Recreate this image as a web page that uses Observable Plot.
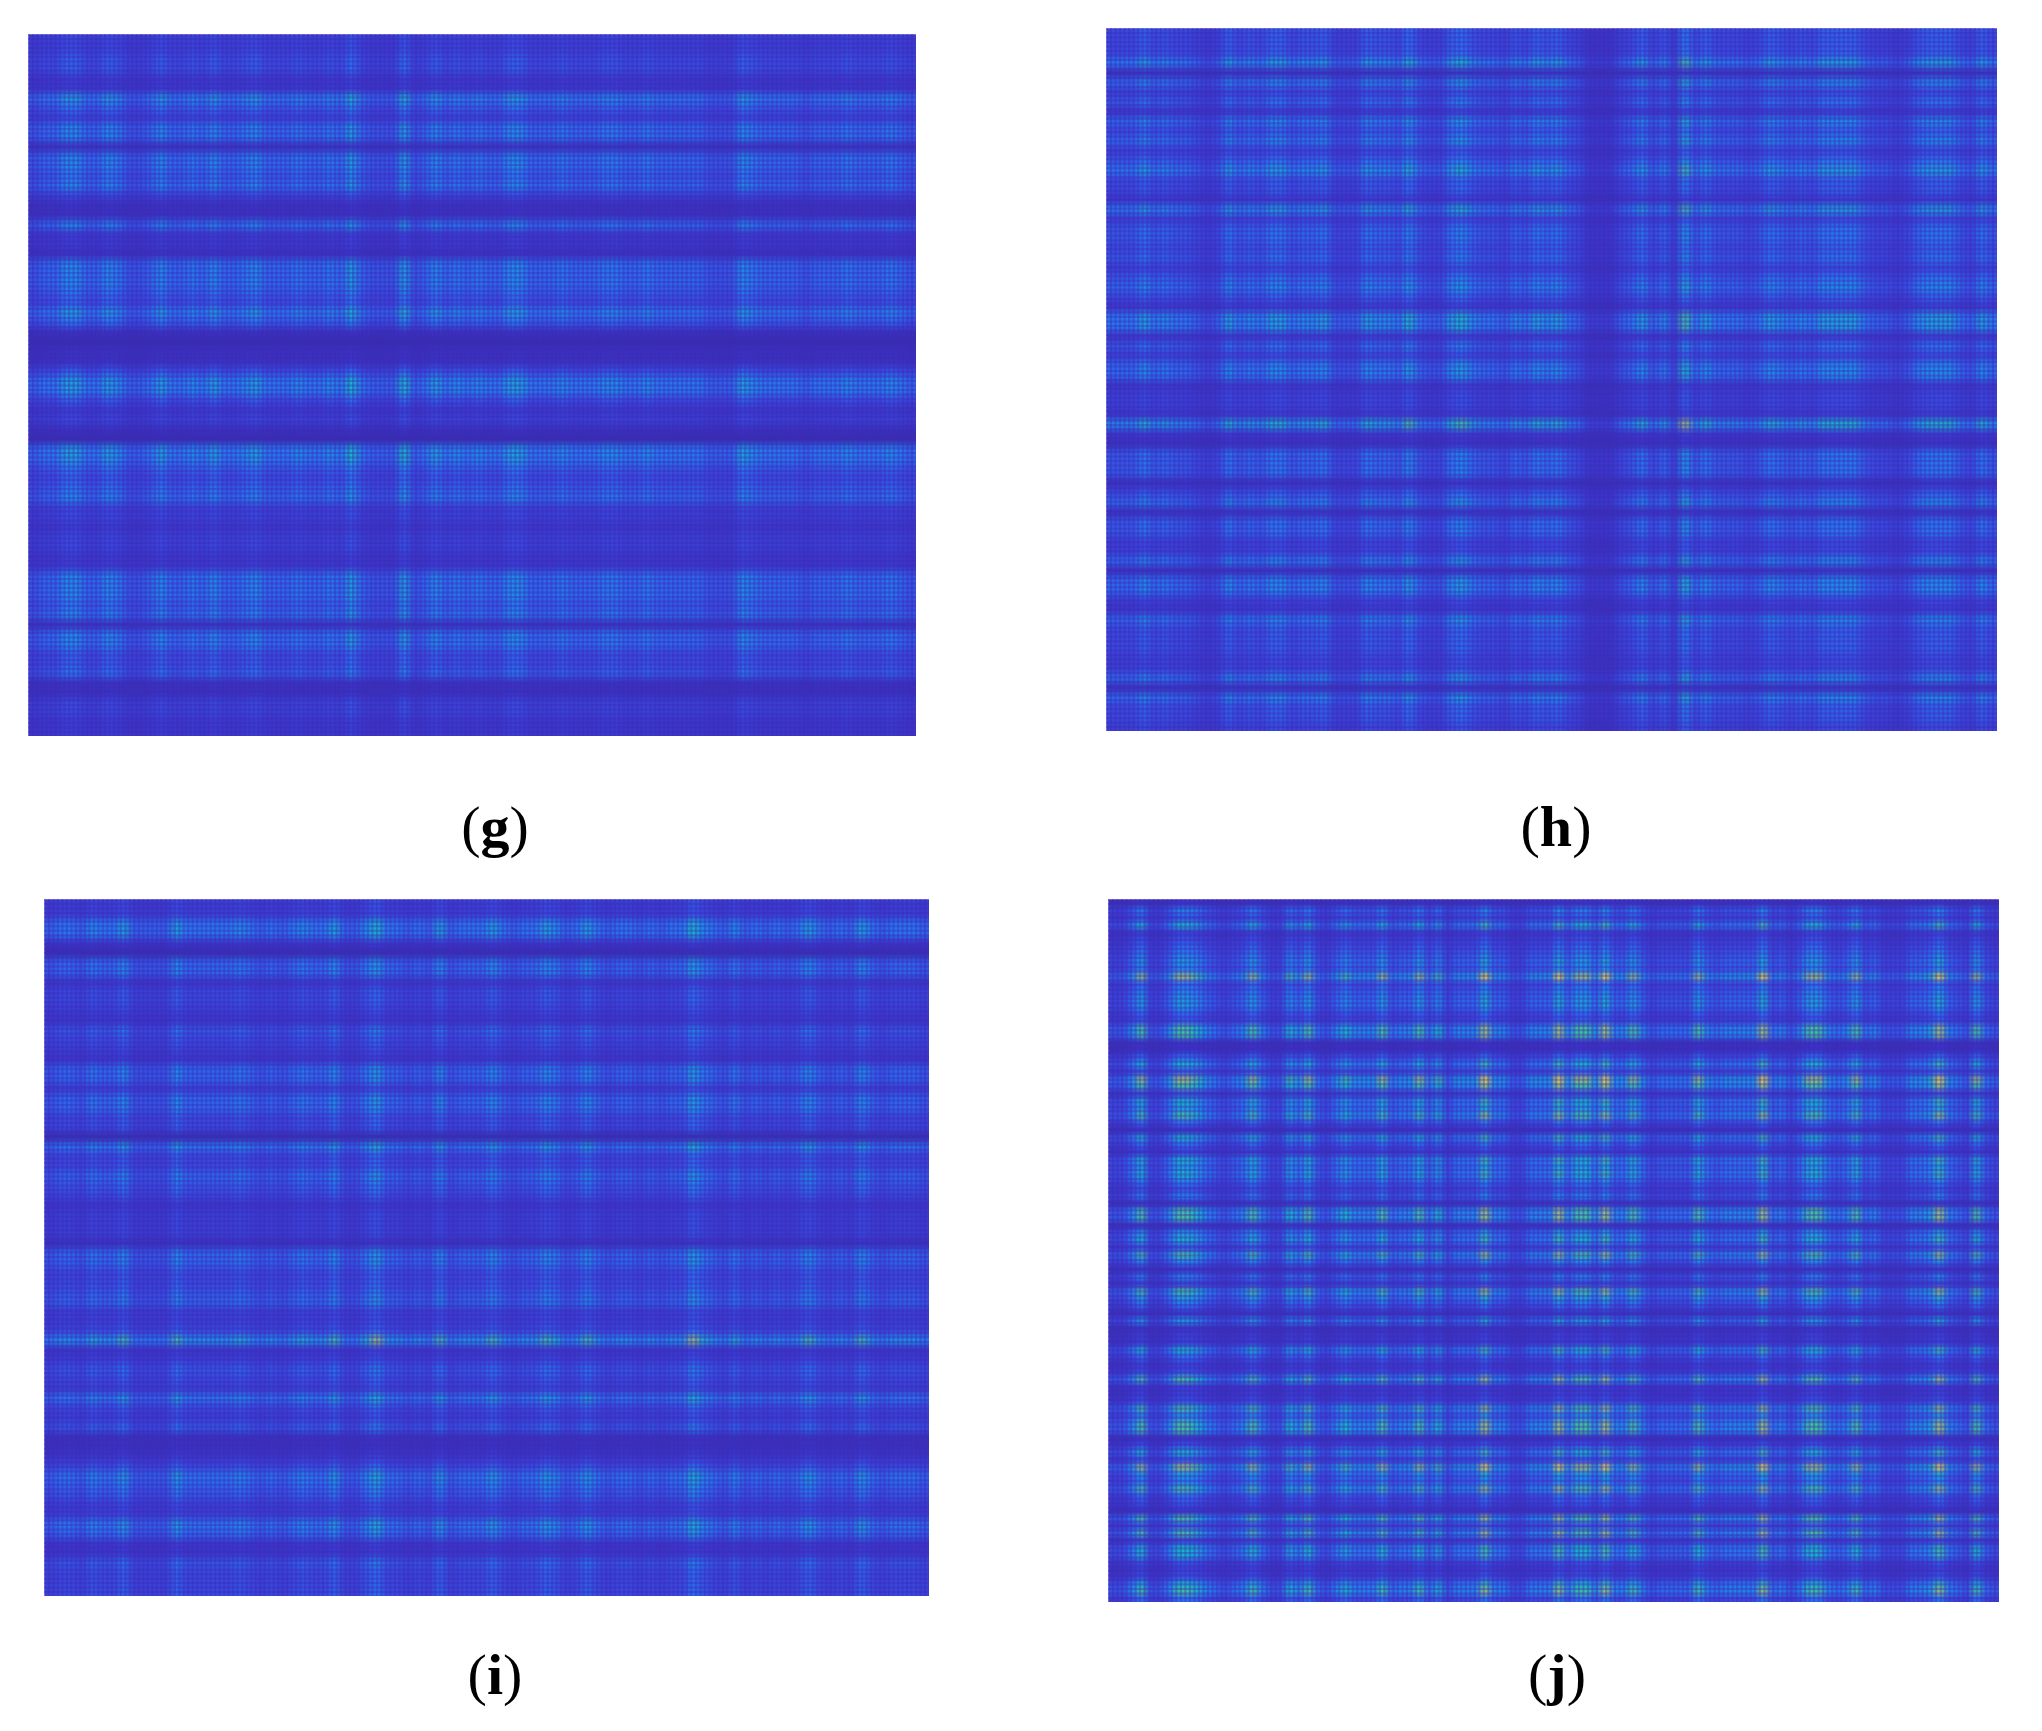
<!DOCTYPE html>
<html>
<head>
<meta charset="utf-8">
<script src="https://cdn.jsdelivr.net/npm/d3@7"></script>
<script src="https://cdn.jsdelivr.net/npm/@observablehq/plot@0.6"></script>
<style>
  html, body { margin: 0; padding: 0; background: #fff; }
  #page { position: relative; width: 2042px; height: 1731px; overflow: hidden; }
  .panel { position: absolute; }
  .panel svg { display: block; }
  .label { position: absolute; transform: translateX(-50%); font: 58px/58px "Liberation Serif", serif; color: #000; white-space: nowrap; }
  .label b { font-weight: 700; }
</style>
</head>
<body>
<div id="page"></div>
<script>
// Estimated band intensity (0-9), top to bottom / left to right.
// These are coarse row and column profiles, not the original matrices: cells are not read one by one.
const gRows = [3,3,4,4,2,2,7,5,3,6,6,1,6,6,5,6,3,1,1,6,2,2,1,6,6,6,5,4,7,5,1,0,1,1,4,7,7,4,2,3,1,0,7,7,5,4,5,6,3,3,2,3,3,2,2,6,6,6,5,6,1,6,6,4,4,5,1,1,3,3,2,2];
const gCols = [4,5,5,7,7,5,5,7,6,4,4,5,7,5,5,6,5,7,5,5,6,7,5,5,5,6,5,5,6,5,8,5,4,4,4,8,4,5,7,5,6,5,6,5,5,7,7,5,5,5,6,5,5,5,6,6,5,5,6,5,5,5,5,5,4,4,4,7,6,5,5,5,5,4,5,5,5,6,5,5,5,6,5,4];
const hRows = [4,4,4,7,1,6,3,5,2,6,4,6,3,5,7,4,4,2,7,3,5,5,4,5,3,5,6,4,2,7,7,2,5,3,6,6,2,3,3,2,8,2,1,5,5,5,1,4,6,1,5,5,3,3,6,1,6,6,3,2,6,4,4,4,3,3,6,1,6,4,4,3];
const hCols = [5,5,5,7,5,6,5,5,4,3,4,7,5,6,5,7,7,5,6,6,7,4,4,4,7,6,6,5,8,5,4,4,7,8,6,5,5,4,6,5,7,6,7,5,4,2,2,2,4,5,7,4,6,3,9,5,7,5,5,5,4,5,7,6,5,6,5,7,7,7,7,5,4,4,3,4,6,7,7,7,5,4,7,5];
const iRows = [3,3,7,7,2,0,6,6,2,4,4,3,2,5,4,3,2,6,6,3,6,6,4,4,0,7,4,4,6,5,4,2,3,3,3,1,6,6,4,4,5,6,3,3,4,9,2,3,5,4,3,7,4,3,5,1,1,2,4,7,6,5,3,3,7,6,2,2,5,4,4,4];
const iCols = [4,5,5,4,6,5,5,7,4,4,4,4,7,5,5,5,5,5,6,5,4,5,4,5,6,5,5,7,4,4,6,8,5,5,4,5,4,7,4,5,5,5,7,5,4,5,5,7,6,4,5,7,5,4,5,5,4,5,4,5,5,8,6,5,4,6,4,5,4,5,4,5,7,5,4,5,4,7,5,4,5,5,5,4];
const jRows = [1,5,3,7,2,3,4,5,6,5,9,4,5,6,6,4,3,8,8,1,1,4,7,3,9,8,2,7,6,8,4,1,7,4,2,7,6,7,5,3,5,1,8,8,1,6,7,3,8,5,1,5,2,8,6,4,1,6,1,2,2,7,4,2,3,8,2,2,3,8,5,8,8,1,3,7,3,9,6,5,8,4,3,1,8,3,8,2,7,7,3,2,3,7,8,4];
const jCols = [3,3,5,8,3,3,5,8,8,7,5,4,3,4,5,8,5,3,3,7,5,8,4,3,5,7,5,5,5,8,4,5,5,8,4,7,3,5,5,5,9,5,5,3,3,5,5,5,9,5,8,8,5,9,5,5,8,5,3,4,4,4,4,8,5,4,5,5,5,5,9,4,5,3,5,8,8,5,4,5,8,4,5,3,3,3,5,5,6,9,5,4,3,8,4,3];

const colorStops = [0, 0.1, 0.25, 0.4, 0.55, 0.7, 0.82, 0.92, 1];
const colorRange = ["#3a2cae","#3d33c4","#3a48dc","#2a6fee","#1a94e4","#16b8c4","#4cc48c","#b8c060","#f4d83a"];

const panels = [
  {name: "g", rows: gRows, cols: gCols, left: 28, top: 34, width: 888, height: 702, cx: 495, base: 847},
  {name: "h", rows: hRows, cols: hCols, left: 1106, top: 28, width: 891, height: 703, cx: 1556, base: 847},
  {name: "i", rows: iRows, cols: iCols, left: 44, top: 899, width: 885, height: 697, cx: 495, base: 1695},
  {name: "j", rows: jRows, cols: jCols, left: 1108, top: 899, width: 891, height: 703, cx: 1557, base: 1695}
];

// Decorative overlay imitating the reference's cell lattice, about 4.5 px apart. It carries no data.
const latticeX = 197, latticeY = 156;

const page = document.getElementById("page");
for (const p of panels) {
  const nr = p.rows.length, nc = p.cols.length;
  // Each cell combines its row band with its column band.
  const values = [];
  for (const r of p.rows) for (const c of p.cols) values.push(r * c / 81);
  const xLines = d3.range(latticeX).map(i => i * nc / latticeX);
  const yLines = d3.range(latticeY).map(i => i * nr / latticeY);
  const chart = Plot.plot({
    width: p.width, height: p.height, margin: 0,
    x: {axis: null, domain: [0, nc]},
    y: {axis: null, domain: [nr, 0]},
    color: {type: "linear", domain: colorStops, range: colorRange, clamp: true},
    marks: [
      Plot.raster(values, {width: nc, height: nr, x1: 0, x2: nc, y1: 0, y2: nr, imageRendering: "auto"}),
      Plot.ruleX(xLines, {stroke: "#3a2cbc", strokeOpacity: 0.4, strokeWidth: 2}),
      Plot.ruleY(yLines, {stroke: "#3a2cbc", strokeOpacity: 0.4, strokeWidth: 2})
    ]
  });
  const box = document.createElement("div");
  box.className = "panel";
  box.style.cssText = `left:${p.left}px;top:${p.top}px`;
  box.appendChild(chart);
  page.appendChild(box);

  const label = document.createElement("div");
  label.className = "label";
  label.style.cssText = `left:${p.cx}px;top:${p.base - 48.6}px`;
  label.innerHTML = `(<b>${p.name}</b>)`;
  page.appendChild(label);
}
</script>
</body>
</html>
